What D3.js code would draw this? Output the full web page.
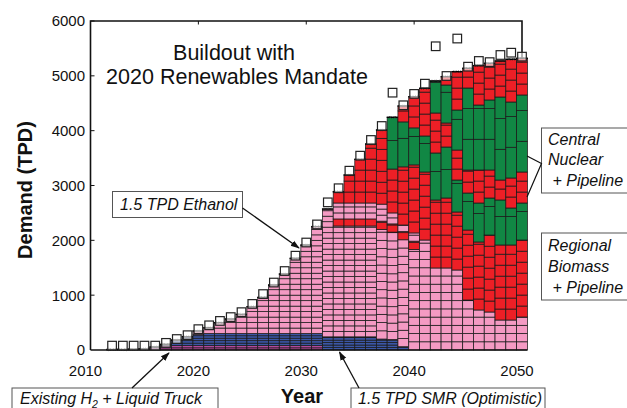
<!DOCTYPE html>
<html><head><meta charset="utf-8">
<script src="https://cdn.jsdelivr.net/npm/d3@7"></script>
<style>
body{margin:0;background:#fff}
svg{display:block}
text{font-family:Arial,"Liberation Sans",Helvetica,sans-serif;fill:#111}
</style>
</head><body>
<svg id="chart" width="627" height="408"></svg>
<script>
// Hydrogen supply buildout, tonnes per day, 2012-2050
const years = d3.range(2012, 2051);

// capacity by technology and vintage group (TPD), stacked bottom to top
const existingH2 = [10,10,15,20,55,80,80,80,80,80,80,80,80,80,80,80,80,80,80,80,0,0,0,0,0,0,0,0,0,0,0,0,0,0,0,0,0,0,0];
const smr        = [0,0,0,0,0,24,102,163,200,220,220,220,220,220,220,220,220,220,220,220,240,240,240,240,240,200,190,60,0,0,0,0,0,0,0,0,0,0,0];
const ethanolA   = [0,0,0,0,0,0,0,0,67,107,198,265,350,490,660,885,1086,1372,1615,1950,2331,2022,2022,2022,2022,2000,1960,1950,1835,2006,1496,1496,1459,912,730,693,547,547,602];
const biomassA   = [0,0,0,0,0,0,0,0,0,0,0,0,0,0,0,0,0,0,0,0,0,128,128,128,128,150,150,150,150,0,0,0,0,0,0,0,0,0,0];
const ethanolB   = [0,0,0,0,0,0,0,0,0,0,0,0,0,0,0,0,0,0,0,0,0,291,291,291,291,310,200,120,150,0,0,0,0,0,0,0,0,0,0];
const biomassB   = [0,0,0,0,0,0,0,0,0,0,0,0,0,0,0,0,0,0,0,0,0,207,511,797,1076,1352,800,1060,1241,1240,1240,1276,1058,1276,1240,1404,1368,1368,1404];
const nuclearA   = [0,0,0,0,0,0,0,0,0,0,0,0,0,0,0,0,0,0,0,0,0,0,0,0,0,0,944,820,675,657,857,930,583,675,711,675,821,675,675];
const biomassC   = [0,0,0,0,0,0,0,0,0,0,0,0,0,0,0,0,0,0,0,0,0,0,0,0,0,0,0,0,0,0,729,438,547,420,602,511,364,547,565];
const nuclearB   = [0,0,0,0,0,0,0,0,0,0,0,0,0,0,0,0,0,0,0,0,0,0,0,0,0,0,0,0,0,0,584,693,730,1495,1185,1277,1514,1386,1405];
const biomassD   = [0,0,0,0,0,0,0,0,0,0,0,0,0,0,0,0,0,0,0,0,0,0,0,0,0,0,0,290,569,870,0,152,699,360,718,669,657,779,669];
const demand     = [80,80,80,80,80,130,200,270,380,450,530,600,690,840,1020,1230,1440,1720,1960,2290,2693,2950,3270,3544,3830,4085,4693,4463,4670,4857,5539,4997,5680,5167,5271,5250,5380,5422,5350];

const yTicks = [0,1000,2000,3000,4000,5000,6000];
const xTicks = [2010,2020,2030,2040,2050];

const colors = {existing:"#b4489c", smr:"#3b56a6", ethanol:"#f49ac3", biomass:"#ed1f26", nuclear:"#118744"};

// stacking order, bottom to top, with the size of one plant block (TPD);
// ethanol plants built after 2036 are larger
const layers = [
  {values: existingH2, color: colors.existing, unit: () => 40},
  {values: smr,        color: colors.smr,      unit: () => 45},
  {values: ethanolA,   color: colors.ethanol,  unit: yr => yr < 2037 ? 100 : 150},
  {values: biomassA,   color: colors.biomass,  unit: () => 130},
  {values: ethanolB,   color: colors.ethanol,  unit: () => 110},
  {values: biomassB,   color: colors.biomass,  unit: () => 200},
  {values: nuclearA,   color: colors.nuclear,  unit: () => 520},
  {values: biomassC,   color: colors.biomass,  unit: () => 200},
  {values: nuclearB,   color: colors.nuclear,  unit: () => 560},
  {values: biomassD,   color: colors.biomass,  unit: () => 200}
];

const svg = d3.select("#chart");
const x = d3.scaleLinear().domain([2010, 2050]).range([90.5, 522]);
const y = d3.scaleLinear().domain([0, 6000]).range([350, 21]);
const bw = x(2011) - x(2010);

// plot frame
const frame = svg.append("g").attr("stroke", "#111").attr("fill", "none");
frame.append("path").attr("stroke-width", 1.6)
  .attr("d", `M${x(2010)},${y(0)}V${y(6000)}H${x(2050)}V${y(0)}`);
frame.selectAll("line.tt").data(xTicks.slice(1, -1)).join("line")
  .attr("x1", d => x(d)).attr("x2", d => x(d)).attr("y1", y(6000)).attr("y2", y(6000) + 3.5)
  .attr("stroke-width", 1);

// stacked plant blocks
const bars = svg.append("g");
years.forEach((yr, i) => {
  let base = 0;
  const x0 = x(yr) - bw / 2;
  layers.forEach(L => {
    const v = L.values[i];
    if (v <= 0) return;
    const u = L.unit(yr);
    let b = base;
    const top = base + v;
    while (b < top - 1e-6) {
      const t = Math.min(top, b + u);
      bars.append("rect")
        .attr("x", x0).attr("width", bw)
        .attr("y", y(t)).attr("height", Math.max(0.3, y(b) - y(t)))
        .attr("fill", L.color).attr("stroke", "#1a1a1a").attr("stroke-width", 0.75);
      b = t;
    }
    base = top;
  });
  // heavier cap on each column
  bars.append("line")
    .attr("x1", x0 - 0.5).attr("x2", x0 + bw + 0.5)
    .attr("y1", y(base)).attr("y2", y(base))
    .attr("stroke", "#000").attr("stroke-width", 1.4);
  // small twin marks at the column top
  [-2.3, 2.3].forEach(dx => {
    bars.append("path")
      .attr("d", `M${x(yr) + dx - 1.2},${y(base) - 1.2}l2.4,2.4M${x(yr) + dx + 1.2},${y(base) - 1.2}l-2.4,2.4`)
      .attr("stroke", "#222").attr("stroke-width", 0.7);
  });
});

// bottom axis line, drawn over the column bases
svg.append("line").attr("x1", x(2010)).attr("x2", x(2050) + bw / 2)
  .attr("y1", y(0)).attr("y2", y(0)).attr("stroke", "#111").attr("stroke-width", 1.6);

// left ticks and labels
svg.append("g").selectAll("line").data(yTicks.slice(1)).join("line")
  .attr("x1", x(2010)).attr("x2", x(2010) + 4).attr("y1", d => y(d)).attr("y2", d => y(d))
  .attr("stroke", "#111").attr("stroke-width", 1);
svg.append("g").selectAll("text").data(yTicks).join("text")
  .attr("x", 85).attr("y", d => y(d)).attr("dy", "0.36em")
  .attr("text-anchor", "end").attr("font-size", 15).text(d => d);
svg.append("g").selectAll("text").data(xTicks).join("text")
  .attr("x", d => x(d) - 5).attr("y", 376)
  .attr("text-anchor", "middle").attr("font-size", 15).text(d => d);

// demand markers
svg.append("g").selectAll("rect").data(years).join("rect")
  .attr("x", (d, i) => x(d) - 4.3).attr("y", (d, i) => y(demand[i]) - 4.3)
  .attr("width", 8.6).attr("height", 8.6)
  .attr("fill", "#fff").attr("fill-opacity", 0.6)
  .attr("stroke", "#222").attr("stroke-width", 1.2);

// axis titles
svg.append("text").attr("transform", "translate(32,190) rotate(-90)")
  .attr("text-anchor", "middle").attr("font-size", 20).attr("font-weight", "bold")
  .text("Demand (TPD)");
svg.append("text").attr("x", 302).attr("y", 403)
  .attr("text-anchor", "middle").attr("font-size", 20).attr("font-weight", "bold")
  .text("Year");

// title
const title = svg.append("text").attr("text-anchor", "middle").attr("font-size", 21.5);
title.append("tspan").attr("x", 234).attr("y", 60).text("Buildout with");
title.append("tspan").attr("x", 237).attr("y", 84).text("2020 Renewables Mandate");

// arrow heads
svg.append("defs").append("marker").attr("id", "ah")
  .attr("viewBox", "0 0 10 10").attr("refX", 9).attr("refY", 5)
  .attr("markerWidth", 7).attr("markerHeight", 7).attr("orient", "auto-start-reverse")
  .append("path").attr("d", "M0,1.5L10,5L0,8.5Z").attr("fill", "#111");

// callout boxes
function callout(x0, y0, w, h, lines) {
  svg.append("rect").attr("x", x0).attr("y", y0).attr("width", w).attr("height", h)
    .attr("fill", "#fff").attr("stroke", "#555").attr("stroke-width", 1);
  const t = svg.append("text").attr("font-size", 16).attr("font-style", "italic");
  lines.forEach(s => t.append("tspan").attr("x", s.x).attr("y", s.y).text(s.t));
  return t;
}
function arrow(x1, y1, x2, y2) {
  svg.append("line").attr("x1", x1).attr("y1", y1).attr("x2", x2).attr("y2", y2)
    .attr("stroke", "#111").attr("stroke-width", 1.3).attr("marker-end", "url(#ah)");
}

callout(112.5, 191.5, 130, 26, [{x: 120, y: 210, t: "1.5 TPD Ethanol"}]);
arrow(242.5, 208, 299, 248);

const ex = callout(12, 388, 206, 30, []);
ex.attr("x", 20).attr("y", 404);
ex.append("tspan").text("Existing H");
ex.append("tspan").attr("font-size", 10.5).attr("dy", 3.5).text("2");
ex.append("tspan").attr("dy", -3.5).text(" + Liquid Truck");
arrow(132, 388, 169, 353);

callout(351, 388, 194, 30, [{x: 358, y: 404, t: "1.5 TPD SMR (Optimistic)"}]);
arrow(359, 388, 339.5, 352);

callout(541.5, 128, 100, 65, [
  {x: 548, y: 145, t: "Central"}, {x: 548, y: 165, t: "Nuclear"}, {x: 548, y: 186, t: " + Pipeline"}]);
svg.append("path").attr("d", "M527,156L541.5,163.5L527,197")
  .attr("stroke", "#111").attr("stroke-width", 1.2).attr("fill", "none");

callout(541.5, 233, 100, 67, [
  {x: 548, y: 251, t: "Regional"}, {x: 548, y: 272, t: "Biomass"}, {x: 548, y: 293, t: " + Pipeline"}]);
</script>
</body></html>
